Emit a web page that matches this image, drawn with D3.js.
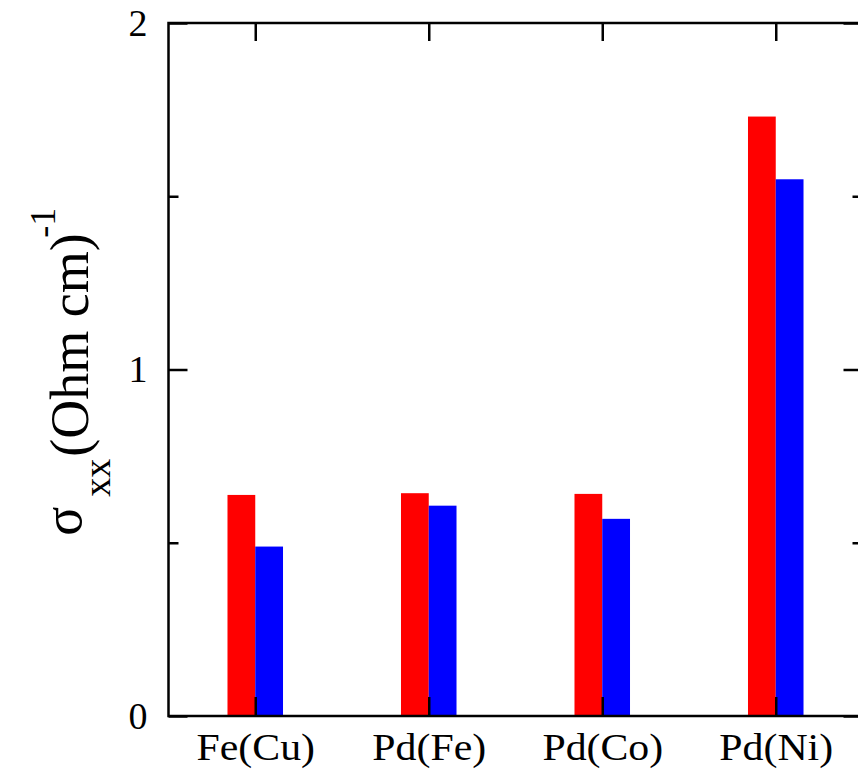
<!DOCTYPE html>
<html>
<head>
<meta charset="utf-8">
<script src="https://cdn.jsdelivr.net/npm/d3@7"></script>
<style>
  html, body { margin: 0; padding: 0; background: #fff; }
  svg { display: block; }
</style>
</head>
<body>
<svg id="chart" width="858" height="771"></svg>
<script>
// ---- data ----
const categories = ["Fe(Cu)", "Pd(Fe)", "Pd(Co)", "Pd(Ni)"];
const seriesRed  = [0.638, 0.643, 0.641, 1.730];
const seriesBlue = [0.489, 0.607, 0.569, 1.549];
const yMajorTicks = [0, 1, 2];
const yMinorTicks = [0.5, 1.5];
const yTickLabels = ["0", "1", "2"];

(function () {
const FONT = "'Liberation Serif', 'Times New Roman', Times, serif";
const svg = d3.select("#chart");
const mLeft = 168.5, mRight = 862.5, mTop = 23, mBottom = 716;

const x = d3.scaleLinear().domain([0.5, 4.5]).range([mLeft, mRight]);
const y = d3.scaleLinear().domain([0, 2]).range([mBottom, mTop]);
const barW = 0.16; // in category units

const rows = categories.map((c, i) => ({ c, i: i + 1, red: seriesRed[i], blue: seriesBlue[i] }));

// bars
const g = svg.append("g");
g.selectAll("rect.red").data(rows).enter().append("rect")
  .attr("class", "red")
  .attr("x", d => x(d.i - barW))
  .attr("width", d => x(d.i) - x(d.i - barW))
  .attr("y", d => y(d.red))
  .attr("height", d => y(0) - y(d.red))
  .attr("fill", "#ff0000");
g.selectAll("rect.blue").data(rows).enter().append("rect")
  .attr("class", "blue")
  .attr("x", d => x(d.i))
  .attr("width", d => x(d.i + barW) - x(d.i))
  .attr("y", d => y(d.blue))
  .attr("height", d => y(0) - y(d.blue))
  .attr("fill", "#0000ff");

function styleAxis(sel) {
  sel.attr("font-family", null).attr("font-size", null);
  sel.select(".domain").remove();
  sel.selectAll(".tick line").attr("stroke", "#000").attr("stroke-width", 2.5);
  sel.selectAll(".tick text").style("font-family", FONT).style("font-size", "38px").attr("fill", "#000");
}

// left axis
svg.append("g").attr("transform", `translate(${mLeft},0)`)
  .call(d3.axisLeft(y).tickValues(yMajorTicks).tickSize(-19).tickPadding(21)
    .tickFormat((d, i) => yTickLabels[i]))
  .call(styleAxis);
svg.append("g").attr("transform", `translate(${mLeft},0)`)
  .call(d3.axisLeft(y).tickValues(yMinorTicks).tickSize(-10).tickFormat(""))
  .call(styleAxis);
// right axis
svg.append("g").attr("transform", `translate(${mRight},0)`)
  .call(d3.axisRight(y).tickValues(yMajorTicks).tickSize(-19).tickFormat(""))
  .call(styleAxis);
svg.append("g").attr("transform", `translate(${mRight},0)`)
  .call(d3.axisRight(y).tickValues(yMinorTicks).tickSize(-10).tickFormat(""))
  .call(styleAxis);
// bottom axis
const bx = svg.append("g").attr("transform", `translate(0,${mBottom})`)
  .call(d3.axisBottom(x).tickValues(rows.map(d => d.i)).tickSize(-19).tickPadding(17)
    .tickFormat(d => categories[d - 1]))
  .call(styleAxis);
bx.selectAll(".tick text").attr("transform", "scale(1.1,1)");
// top axis
svg.append("g").attr("transform", `translate(0,${mTop})`)
  .call(d3.axisTop(x).tickValues(rows.map(d => d.i)).tickSize(-18).tickFormat(""))
  .call(styleAxis);

// frame
svg.append("rect")
  .attr("x", mLeft).attr("y", mTop)
  .attr("width", mRight - mLeft).attr("height", mBottom - mTop)
  .attr("fill", "none").attr("stroke", "#000").attr("stroke-width", 2.5);

// y label
const yl = svg.append("text")
  .attr("transform", `translate(88,${y(0.52)}) rotate(-90)`)
  .attr("text-anchor", "start")
  .style("font-family", FONT)
  .style("font-size", "54px");
yl.append("tspan").attr("x", 0).attr("y", -7).text("σ");
yl.append("tspan").attr("x", 39).attr("y", 22).style("font-size", "38px").text("xx");
yl.append("tspan").attr("x", 79).attr("y", 0).text("(Ohm cm)");
yl.append("tspan").attr("x", 298).attr("y", -33).style("font-size", "36px").text("-1");
})();
</script>
</body>
</html>
